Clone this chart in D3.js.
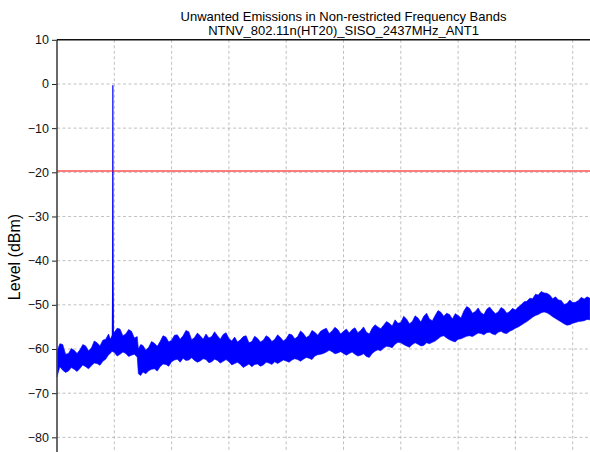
<!DOCTYPE html>
<html>
<head>
<meta charset="utf-8">
<script src="https://cdn.jsdelivr.net/npm/d3@7"></script>
<style>
  html, body { margin: 0; padding: 0; background: #fff; }
  svg { display: block; font-family: "Liberation Sans", Arial, sans-serif; }
</style>
</head>
<body>
<svg id="chart" width="590" height="452"></svg>
<script>
// Spectrum sweep, envelope of the trace (MHz, dBm)
const freqMHz = [
  0,125,250,375,500,625,750,875,1000,1125,1250,1375,1500,1625,1750,1875,2000,2125,2250,
  2325,2400,2500,
  2625,2750,2875,3000,3125,3250,3375,3500,
  3550,3650,3750,3875,
  4000,4125,4250,4375,4500,4625,4750,4875,5000,5125,5250,5375,5500,5625,5750,5875,
  6000,6125,6250,6375,6500,6625,6750,6875,7000,7125,7250,7375,7500,7625,7750,7875,
  8000,8125,8250,8375,8500,8625,8750,8875,9000,9125,9250,9375,9500,9625,9750,9875,
  10000,10125,10250,10375,10500,10625,10750,10875,11000,11125,11250,11375,11500,11625,11750,11875,
  12000,12125,12250,12375,12500,12625,12750,12875,13000,13125,13250,13375,13500,13625,13750,13875,
  14000,14125,14250,14375,14500,14625,14750,14875,15000,15125,15250,15375,15500,15625,15750,15875,
  16000,16125,16250,16375,16500,16625,16750,16875,17000,17125,17250,17375,17500,17625,17750,17875,
  18000,18125,18250,18375,18500,18625,18750,18875,19000,19125,19250,19375,19500,19625,19750,19875,
  20000,20125,20250,20375,20500,20625,20750,20875,21000,21125,21250,21375,21500,21625,21750,21875,
  22000,22125,22250,22375,22500,22625,22750,22875,23000,23125,23250
];
const levelUpper = [
  -60.5,-58.8,-59.0,-61.2,-61.0,-59.9,-60.3,-61.0,-60.2,-59.0,-59.3,-60.4,-59.8,-58.2,-58.6,-59.3,-58.0,-57.8,-56.6,
  -57.8,-57.0,-56.2,
  -55.3,-55.5,-57.0,-56.6,-55.6,-56.0,-57.5,-57.2,
  -60.0,-59.0,-59.2,-60.3,
  -59.6,-58.3,-58.7,-59.4,-58.3,-57.0,-57.3,-58.4,-58.0,-56.9,-56.8,-57.8,-57.0,-55.8,-56.1,-57.9,
  -57.4,-56.4,-57.0,-57.8,-56.6,-57.5,-57.2,-56.1,-57.0,-57.8,-56.7,-56.3,-57.6,-58.2,-57.3,-58.4,
  -57.9,-57.2,-57.0,-58.6,-58.3,-57.1,-57.6,-58.4,-58.0,-57.0,-57.4,-58.3,-57.8,-56.8,-57.4,-58.2,
  -57.7,-56.6,-56.8,-57.7,-57.2,-55.9,-56.5,-57.4,-57.0,-55.8,-56.2,-56.9,-56.0,-55.6,-55.3,-56.5,
  -55.9,-55.1,-55.6,-56.6,-56.0,-55.5,-56.4,-55.6,-55.2,-56.3,-55.8,-55.0,-56.2,-56.6,-55.3,-54.5,
  -55.0,-55.4,-54.6,-53.8,-54.2,-54.8,-53.4,-54.2,-54.0,-52.6,-53.2,-54.3,-53.8,-52.5,-53.0,-53.9,
  -52.6,-51.9,-53.2,-53.6,-52.4,-51.3,-51.7,-52.6,-51.9,-52.2,-53.2,-52.0,-52.4,-53.0,-51.4,-50.4,
  -50.8,-51.9,-51.5,-50.7,-51.8,-52.2,-51.0,-50.5,-51.3,-52.0,-51.6,-50.6,-51.0,-51.9,-51.5,-50.8,
  -51.2,-50.5,-50.0,-49.3,-49.2,-48.5,-48.6,-47.6,-47.8,-47.0,-47.3,-47.4,-47.8,-48.6,-48.2,-48.9,
  -49.0,-49.9,-49.7,-48.9,-49.5,-49.4,-49.0,-48.3,-48.7,-48.2,-48.5
];
const levelLower = [
  -66.3,-64.0,-64.8,-65.3,-65.0,-64.2,-64.6,-65.1,-64.4,-63.6,-64.0,-64.5,-63.8,-63.2,-63.3,-63.7,-62.8,-62.3,-61.3,
  -61.0,-60.5,-60.8,
  -61.6,-61.2,-60.7,-61.0,-61.7,-61.4,-61.2,-61.8,
  -65.6,-66.0,-65.2,-65.6,
  -64.9,-64.6,-64.5,-65.0,-64.0,-63.4,-63.5,-63.9,-62.9,-62.5,-62.3,-63.0,-62.1,-62.6,-62.5,-62.0,
  -62.6,-63.0,-62.7,-62.2,-62.4,-63.1,-62.9,-62.3,-62.6,-63.2,-62.8,-62.4,-62.9,-63.6,-63.3,-63.0,
  -63.5,-64.2,-63.8,-63.4,-64.0,-63.5,-63.4,-63.9,-63.6,-63.0,-63.2,-63.5,-62.9,-63.3,-62.9,-62.5,
  -62.7,-63.0,-62.5,-62.2,-62.4,-62.8,-62.3,-61.9,-62.1,-62.4,-61.6,-61.3,-61.2,-61.0,-60.7,-60.3,
  -60.6,-61.1,-60.9,-60.6,-61.0,-61.4,-61.0,-60.7,-61.2,-61.6,-61.4,-61.1,-61.7,-61.9,-61.0,-60.5,
  -60.2,-60.4,-59.8,-59.4,-59.5,-59.7,-58.9,-58.5,-58.6,-59.0,-59.3,-59.6,-59.0,-58.6,-58.9,-59.3,
  -59.2,-58.6,-58.8,-58.5,-58.2,-57.7,-57.2,-57.0,-57.5,-57.9,-58.2,-58.4,-57.8,-57.7,-57.4,-57.1,
  -57.0,-57.2,-56.8,-56.4,-56.5,-56.8,-56.3,-56.2,-56.6,-56.8,-56.2,-56.0,-56.4,-56.5,-56.0,-55.7,
  -55.3,-55.0,-54.6,-54.2,-53.8,-53.3,-52.8,-52.4,-52.2,-51.8,-51.6,-51.8,-52.2,-52.7,-53.1,-53.5,
  -53.9,-54.3,-54.6,-54.5,-54.2,-54.0,-53.8,-53.7,-53.6,-53.3,-53.4
];

// Carrier at 2437 MHz
const carrierFreq = [2415, 2428, 2434, 2437, 2440, 2446, 2459];
const carrierLevel = [-58.0, -45.0, -20.0, -0.3, -20.0, -45.0, -58.0];

// Limit line
const limitLevel = -19.7;

const yTicks = [10, 0, -10, -20, -30, -40, -50, -60, -70, -80];
const xGrid = [2500, 5000, 7500, 10000, 12500, 15000, 17500, 20000, 22500];

const titleLines = ["Unwanted Emissions in Non-restricted Frequency Bands",
                    "NTNV_802.11n(HT20)_SISO_2437MHz_ANT1"];

const svg = d3.select("#chart");
const x = d3.scaleLinear().domain([0, 25000]).range([57, 630]);
const y = d3.scaleLinear().domain([-90, 10]).range([481.5, 39.8]);

// Grid
const grid = svg.append("g").attr("stroke", "#b0b0b0").attr("stroke-width", 0.8)
  .attr("stroke-dasharray", "3,2.5");
grid.selectAll("line.h").data(yTicks.slice(1)).join("line")
  .attr("x1", x(0)).attr("x2", x(25000))
  .attr("y1", d => y(d)).attr("y2", d => y(d));
grid.selectAll("line.v").data(xGrid).join("line")
  .attr("x1", d => x(d)).attr("x2", d => x(d))
  .attr("y1", y(10)).attr("y2", y(-90));

// Trace envelope
const n = Math.min(freqMHz.length, levelUpper.length, levelLower.length);
const idx = d3.range(n);
const band = d3.area()
  .x(i => x(freqMHz[i]))
  .y0(i => y(levelLower[i]))
  .y1(i => y(levelUpper[i]));
svg.append("path").datum(idx)
  .attr("d", band)
  .attr("fill", "#0000ff")
  .attr("stroke", "#0000ff")
  .attr("stroke-width", 0.6)
  .attr("stroke-linejoin", "round");

// Carrier spike
const spike = d3.line().x((d, i) => x(carrierFreq[i])).y((d, i) => y(carrierLevel[i]));
svg.append("path").datum(carrierFreq)
  .attr("d", spike)
  .attr("fill", "#0000ff")
  .attr("stroke", "#0000ff")
  .attr("stroke-width", 1.2);

// Limit
svg.append("line")
  .attr("x1", x(0)).attr("x2", x(25000))
  .attr("y1", y(limitLevel)).attr("y2", y(limitLevel))
  .attr("stroke", "#ff0000").attr("stroke-width", 1.2);

// Y axis
const yAxis = d3.axisLeft(y).tickValues(yTicks).tickSize(5).tickPadding(3)
  .tickFormat(d => d < 0 ? "\u2212" + Math.abs(d) : String(d));
const ya = svg.append("g").attr("transform", `translate(${x(0)},0)`).call(yAxis);
ya.select(".domain").remove();
ya.selectAll(".tick line").attr("stroke", "#222").attr("stroke-width", 1);
ya.selectAll(".tick text").attr("fill", "#111").attr("font-size", 12.5)
  .attr("font-family", "Liberation Sans, Arial, sans-serif");

// Spines
svg.append("line").attr("x1", x(0)).attr("x2", x(0)).attr("y1", y(10)).attr("y2", y(-90))
  .attr("stroke", "#444").attr("stroke-width", 1.6);
svg.append("line").attr("x1", x(0)).attr("x2", x(25000)).attr("y1", y(10)).attr("y2", y(10))
  .attr("stroke", "#111").attr("stroke-width", 1.4);

// Axis label
svg.append("text")
  .attr("transform", `translate(20,257) rotate(-90)`)
  .attr("text-anchor", "middle")
  .attr("font-size", 16)
  .attr("fill", "#000")
  .text("Level (dBm)");

// Title
const cx = (x(0) + x(25000)) / 2;
svg.append("text").attr("x", cx).attr("y", 20.5).attr("text-anchor", "middle")
  .attr("font-size", 13).attr("fill", "#000").text(titleLines[0]);
svg.append("text").attr("x", cx).attr("y", 34.5).attr("text-anchor", "middle")
  .attr("font-size", 13).attr("fill", "#000").text(titleLines[1]);
</script>
</body>
</html>
